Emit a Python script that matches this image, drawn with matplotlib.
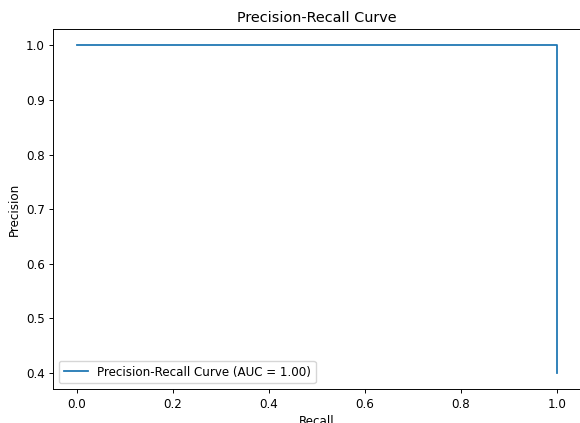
import matplotlib
matplotlib.use("Agg")
from matplotlib import pyplot as plt

# points from the PR curve (sklearn order: recall descending)
recall = [1.0, 1.0, 0.0]
precision = [0.4, 1.0, 1.0]
auc_label = "Precision-Recall Curve (AUC = 1.00)"

# reference looks like a downscaled default figure, so shrink everything a bit
s = 0.86
plt.rcParams.update({
    "font.size": 10 * s,
    "axes.titlesize": 12 * s,
    "lines.linewidth": 1.5 * s,
    "axes.linewidth": 0.8 * s,
    "xtick.major.size": 3.5 * s,
    "ytick.major.size": 3.5 * s,
    "xtick.major.width": 0.8 * s,
    "ytick.major.width": 0.8 * s,
    "xtick.major.pad": 3.5 * s,
    "ytick.major.pad": 3.5 * s,
    "axes.titlepad": 6.0 * s,
    "axes.labelpad": 4.0 * s,
})

fig = plt.figure(figsize=(5.8, 4.23), dpi=100)
ax = fig.add_axes([53 / 580, 33.7 / 423, 528 / 580, 360.3 / 423])

ax.plot(recall, precision, label=auc_label)
ax.set_xlabel("Recall")
ax.set_ylabel("Precision")
ax.set_title("Precision-Recall Curve")
ax.legend(loc="lower left")

fig.savefig("out.png", dpi=100)
